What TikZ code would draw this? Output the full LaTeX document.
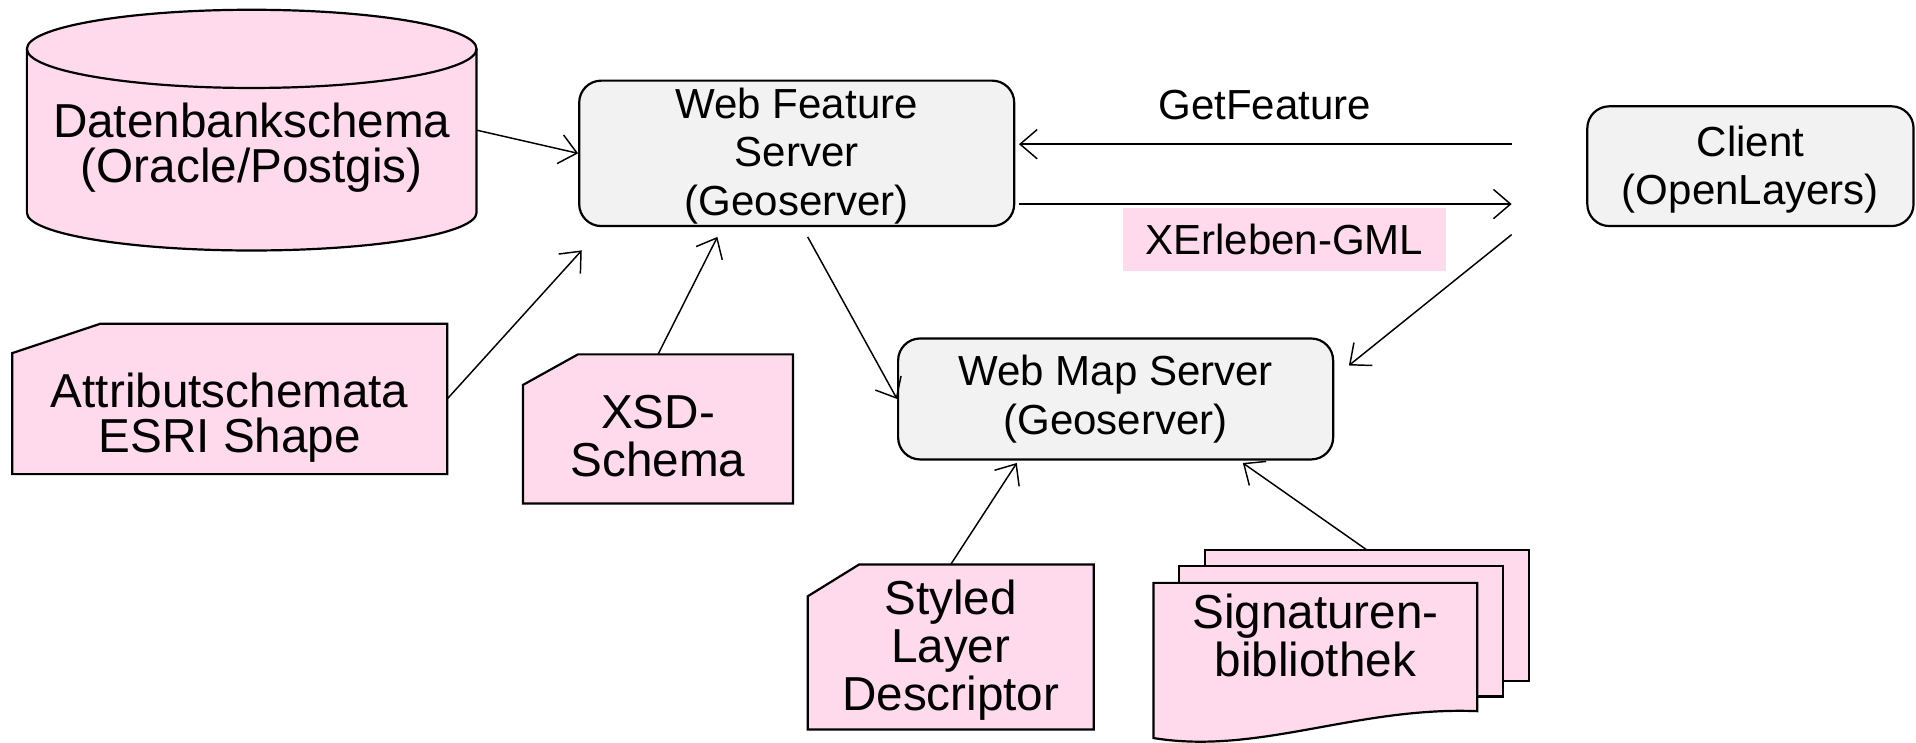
\documentclass[tikz,border=0pt]{standalone}
\usepackage{fontspec}
\setmainfont{Liberation Sans}
\usetikzlibrary{arrows.meta,calc,backgrounds}
\definecolor{pinkf}{HTML}{FFDAEC}
\definecolor{grayf}{HTML}{F2F2F2}
\newcommand\mydocshape[3]{\draw[shp] ($(#1.north west)+(#2,0)$) -- (#1.north east) -- (#1.south east) -- (#1.south west) -- ($(#1.north west)+(0,#3)$) -- cycle;}
\begin{document}
\begin{tikzpicture}[x=0.5pt,y=-0.5pt,
  srv/.style={draw=black,line width=0.9pt,fill=grayf,rounded corners=9pt,align=center,inner sep=0pt},
  big/.style={font=\fontsize{19.5}{19.5}\selectfont},
  small/.style={font=\fontsize{17.2}{19.8}\selectfont},
  arr/.style={line width=0.6pt,-{Straight Barb[length=7pt,width=12pt,line width=0.6pt]}},
  shp/.style={draw=black,line width=0.9pt,fill=pinkf,line join=miter},
  ghost/.style={inner sep=0pt,outer sep=0pt},
  lbl/.style={align=center,inner sep=0pt}
]
\useasboundingbox (0,0) rectangle (1568,608);

% server boxes
\node[srv,minimum width=178pt,minimum height=59.5pt] (wfs) at (652,125.5) {};
\node[lbl,small] (wfsT) at (652,127.5) {Web Feature\\Server\\(Geoserver)};
\node[srv,small,minimum width=178pt,minimum height=49.5pt] (wms) at (913,326.5) {Web Map Server\\(Geoserver)};
\node[srv,minimum width=133.5pt,minimum height=49pt] (client) at (1432.5,136) {};
\node[lbl,small] (clientT) at (1432.5,139) {Client\\(OpenLayers)};

% database
\node[ghost,minimum width=184pt,minimum height=98.5pt] (db) at (206,106.5) {};
\node[lbl,font=\fontsize{19.5}{18.5}\selectfont] (dbT) at (206,121) {Datenbankschema\\(Oracle/Postgis)};

% documents
\node[ghost,minimum width=178pt,minimum height=61.5pt] (attr) at (188,326.5) {};
\node[lbl,font=\fontsize{19.5}{18.5}\selectfont] (attrT) at (188,341.5) {Attributschemata\\ESRI Shape};
\node[ghost,minimum width=110.5pt,minimum height=61pt] (xsd) at (538.5,351) {};
\node[lbl,big] (xsdT) at (538.5,357) {XSD-\\Schema};
\node[ghost,minimum width=117pt,minimum height=67.5pt] (sld) at (778,529.5) {};
\node[lbl,big] (sldT) at (778,532) {Styled\\Layer\\Descriptor};
\node[ghost,minimum width=132.5pt,minimum height=53.5pt] (sigback) at (1118.5,503.5) {};
\node[ghost,minimum width=132.5pt,minimum height=53.5pt] (sigmid) at (1097.5,516.5) {};
\node[ghost,minimum width=132.5pt,minimum height=63.5pt] (sig) at (1076.5,540.5) {};
\node[lbl,big] (sigT) at (1076.5,520) {Signaturen-\\bibliothek};

\begin{pgfonlayer}{background}
  \draw[shp] (22,40) -- (22,174) arc[start angle=180,end angle=360,x radius=92pt,y radius=15.5pt]
    -- (390,40) arc[start angle=0,end angle=180,x radius=92pt,y radius=16pt] -- cycle;
  \draw[line width=0.9pt] (390,40) arc[start angle=0,end angle=-180,x radius=92pt,y radius=16pt];
  \mydocshape{attr}{72}{24}
  \mydocshape{xsd}{45}{25}
  \mydocshape{sld}{42}{26}
  \draw[shp] (sigback.north west) rectangle (sigback.south east);
  \draw[shp] (sigmid.north west) rectangle (sigmid.south east);
  \draw[shp] (sig.north west) -- (sig.north east) -- ($(sig.north east)+(0,105)$)
    .. controls (1110,578) and (1030,618) .. (sig.south west) -- cycle;
\end{pgfonlayer}

% labels
\node[lbl,small] (gf) at (1035,86) {GetFeature};
\node[lbl,small,fill=pinkf,minimum width=132pt,minimum height=26pt] (gml) at (1051,196) {XErleben-GML};

% connectors
\coordinate (gfR) at ($(client.west)+(-61,-18)$);
\coordinate (gmlR) at ($(client.west)+(-61,31)$);
\coordinate (cwR) at ($(client.west)+(-61,56)$);
\draw[arr] (db.east) -- (wfs.west);
\draw[arr] (attr.east) -- ($(wfs.south west)+(3,19)$);
\draw[arr] (xsd.north) -- ($(wfs.south west)+(114,8)$);
\draw[arr] ($(wfs.south)+(9,8)$) -- (wms.west);
\draw[arr] (sld.north) -- ($(wms.south west)+(98,2)$);
\draw[arr] (sigback.north) -- ($(wms.south west)+(283,2)$);
\draw[arr,shorten >=1.5pt] (gfR) -- (gfR -| wfs.east);
\draw[arr,shorten <=1.5pt] (gmlR -| wfs.east) -- (gmlR);
\draw[arr] (cwR) -- ($(wms.north east)+(12,23)$);
\end{tikzpicture}
\end{document}
